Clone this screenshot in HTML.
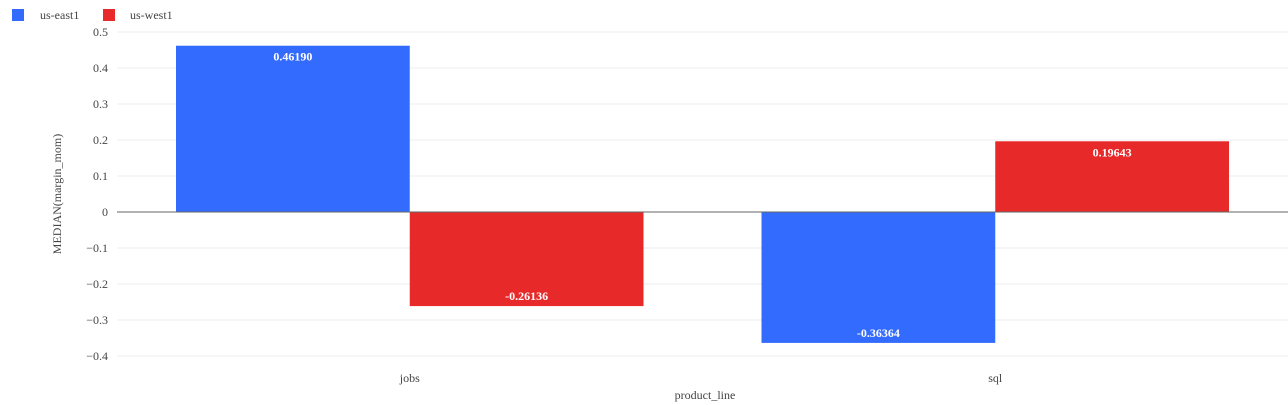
<!DOCTYPE html>
<html><head><meta charset="utf-8"><style>
html,body{margin:0;padding:0;background:#fff;}
svg{display:block;font-family:"Liberation Serif",serif;}
</style></head><body>
<svg id="chart" width="1288" height="405">
<g>
 <g><rect x="12" y="9" width="12" height="12" fill="#346bff"/><text x="40" y="19" font-size="12" fill="#444">us-east1</text></g>
 <g><rect x="103" y="9" width="12" height="12" fill="#e8292a"/><text x="130" y="19" font-size="12" fill="#444">us-west1</text></g>
</g>
<g id="grid"></g>
<g id="yticks"></g>
<g id="bars"></g>
<g id="xticks"></g>
<text x="61" y="194" font-size="12" fill="#444" text-anchor="middle" transform="rotate(-90 61 194)">MEDIAN(margin_mom)</text>
<text x="705" y="399" font-size="12" fill="#444" text-anchor="middle">product_line</text>
</svg>
<script>
const categories = ["jobs", "sql"];
const seriesNames = ["us-east1", "us-west1"];
const eastValues = [0.46190, -0.36364];
const westValues = [-0.26136, 0.19643];
const yTicks = [0.5, 0.4, 0.3, 0.2, 0.1, 0, -0.1, -0.2, -0.3, -0.4];
const yTickLabels = ["0.5","0.4","0.3","0.2","0.1","0","\u22120.1","\u22120.2","\u22120.3","\u22120.4"];

const NS = "http://www.w3.org/2000/svg";
const x0 = 117, x1 = 1288, yTop = 32, yBot = 356, vMax = 0.5, vMin = -0.4;
function yScale(v){ return yTop + (vMax - v) / (vMax - vMin) * (yBot - yTop); }
const band = (x1 - x0) / categories.length;
function xBand(i){ return x0 + i * band; }
function mk(tag, attrs, parent){ const e = document.createElementNS(NS, tag); for (const k in attrs) e.setAttribute(k, attrs[k]); parent.appendChild(e); return e; }

const grid = document.getElementById("grid"), yt = document.getElementById("yticks");
yTicks.forEach((t, i) => {
  const y = yScale(t);
  const l = mk("line", {x1: x0, x2: x1, y1: y, y2: y, stroke: "#ececec", "stroke-width": 1}, grid);
  
  
  const tx = mk("text", {x: 108, y: y + 4, "font-size": 12, fill: "#444", "text-anchor": "end"}, yt);
  tx.textContent = yTickLabels[i];
  
  
});

const bars = document.getElementById("bars");
const pad = 59, barW = (band - 2 * pad) / 2;
const colors = ["#346bff", "#e8292a"];
const allSeries = [eastValues, westValues];
categories.forEach((c, i) => {
  allSeries.forEach((vals, s) => {
    const v = vals[i];
    const x = xBand(i) + pad + s * barW;
    const yv = yScale(v), y0 = yScale(0);
    const r = mk("rect", {x: x, y: Math.min(yv, y0), width: barW, height: Math.abs(yv - y0), fill: colors[s]}, bars);
    
    
    const ty = v >= 0 ? yv + 15 : yv - 6;
    const t = mk("text", {x: x + barW / 2, y: ty, "font-size": 12, "font-weight": "bold", fill: "#fff", "text-anchor": "middle"}, bars);
    t.textContent = v.toFixed(5);
    
    
  });
});
const zl = mk("line", {x1: x0, x2: x1, y1: yScale(0), y2: yScale(0), stroke: "#666", "stroke-width": 1}, bars);



const xt = document.getElementById("xticks");
categories.forEach((c, i) => {
  const t = mk("text", {x: xBand(i) + band / 2, y: 382, "font-size": 12, fill: "#444", "text-anchor": "middle"}, xt);
  t.textContent = c;
  
  
});
</script>
</body></html>
